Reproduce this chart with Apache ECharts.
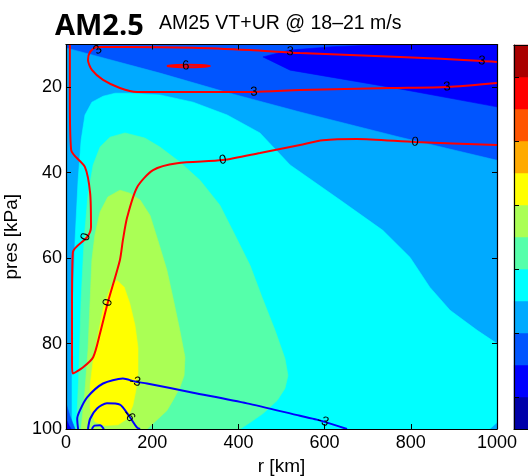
<!DOCTYPE html>
<html>
<head>
<meta charset="utf-8">
<script src="https://cdn.jsdelivr.net/npm/echarts@6/dist/echarts.min.js"></script>
<style>
  html, body { margin: 0; padding: 0; background: #fff; }
  #chart { width: 528px; height: 476px; }
</style>
</head>
<body>
<div id="chart"></div>
<script>
// jet(12) colour map, bottom to top of the colour bar
const jet12 = ['#0000aa', '#0000ff', '#0055ff', '#00aaff', '#00ffff', '#55ffaa',
               '#aaff55', '#ffff00', '#ffaa00', '#ff5500', '#ff0000', '#aa0000'];
// VT band edges [m/s]
const vtLevels = [-12, -9, -6, -3, 0, 3, 6, 9, 12, 15, 18, 21, 24];
const cbarTicks = [-9, -3, 3, 9, 15, 21];
const pTicks = [20, 40, 60, 80, 100];

// Filled VT regions, outlines as [r km, p kPa]; each is the area at or above its level
const vtWhole = [[0, 10], [1000, 10], [1000, 100], [0, 100]];
const vtUpperMin = [[457, 12.9], [520, 11.3], [620, 10.5], [745, 10], [1000, 10], [1000, 24.6],
                    [775, 20.4], [520, 16.0]];
const vtM3 = [[0, 10.8], [218, 16.7], [380, 21.4], [543, 25.8], [775, 31.7], [1000, 37.1],
              [1000, 100], [0, 100]];
const vt0 = [[14, 100], [14, 86.3], [16, 69.9], [21, 55.8], [28, 41.8], [35, 32.4], [44, 26.5],
             [60, 23.5], [86, 22.1], [114, 21.4], [148, 21.4], [218, 21.8], [295, 23.5],
             [374, 26.5], [450, 30.7], [520, 38.2], [636, 46.4], [735, 53.5], [798, 59.8],
             [844, 66.8], [891, 72.2], [954, 76.9], [1000, 80.0], [1000, 98.5], [983, 100]];
const vt3 = [[23, 100], [26, 95.7], [30, 86.3], [35, 69.9], [42, 55.8], [51, 45.3], [63, 38.2],
             [79, 34.0], [102, 31.7], [137, 30.7], [183, 31.9], [218, 34.0], [264, 37.5],
             [311, 41.8], [357, 47.6], [392, 54.6], [427, 61.7], [455, 69.2], [485, 76.9],
             [508, 83.5], [515, 87.5], [508, 90.5], [490, 93.3], [457, 96.4], [427, 98.5],
             [404, 100]];
const vt6 = [[35, 100], [37, 98.0], [44, 91.0], [51, 81.6], [56, 69.9], [60, 60.5], [67, 54.6],
             [79, 49.2], [97, 45.7], [125, 44.1], [148, 44.8], [172, 46.4], [195, 50.0],
             [213, 55.8], [234, 62.8], [248, 69.2], [264, 76.9], [276, 83.2], [274, 87.5],
             [264, 90.3], [248, 93.3], [234, 95.7], [202, 98.7], [188, 100]];
const vt9 = [[118, 65.2], [135, 66.8], [148, 70.6], [160, 75.7], [167, 80.9], [167, 87.0],
             [162, 91.0], [155, 94.5], [142, 97.6], [121, 99.0], [90, 99.2], [67, 98.3],
             [56, 95.2], [56, 89.8], [63, 84.0], [74, 78.1], [88, 71.1], [104, 66.8]];
const vtCornerM6 = [[0, 94.0], [9, 96.9], [21, 100], [0, 100]];
const vtCornerM9 = [[0, 97.6], [7, 99.2], [12, 100], [0, 100]];

const vtBands = [
  { level: -6, outline: vtWhole },
  { level: -9, outline: vtUpperMin },
  { level: -3, outline: vtM3 },
  { level: 0, outline: vt0 },
  { level: 3, outline: vt3 },
  { level: 6, outline: vt6 },
  { level: 9, outline: vt9 },
  { level: -6, outline: vtCornerM6 },
  { level: -9, outline: vtCornerM9 }
];

// UR contour lines [r km, p kPa]
const ur6 = [[234, 15.02], [258, 14.8], [283, 14.75], [310, 14.8], [334, 15.02], [310, 15.25],
             [283, 15.3], [258, 15.25], [234, 15.02]];
const ur3 = [[1000, 14.08], [965, 13.85], [775, 12.9], [543, 12.0], [427, 11.3], [295, 10.75],
             [142, 10.56], [72, 10.56], [56, 11.74], [51, 13.6], [60, 15.96], [86, 18.3],
             [125, 20.18], [165, 21.1], [295, 21.1], [436, 21.1], [543, 20.65], [752, 20.18],
             [884, 19.94], [1000, 19.0]];
const ur0 = [[9, 10.1], [9, 23.0], [12, 34.7], [44, 38.7], [56, 44.8], [58, 52.8], [49, 55.1],
             [16, 58.6], [14, 69.9], [14, 84.7], [16, 87.0], [39, 85.6], [63, 83.2], [79, 77.6],
             [97, 70.4], [125, 60.5], [132, 55.8], [142, 50.4], [165, 43.4], [202, 39.4],
             [258, 37.8], [364, 37.06], [450, 35.4], [543, 33.5], [596, 32.4], [675, 32.1],
             [810, 32.84], [1000, 33.5]];
const urM3 = [[28, 100], [26, 97.6], [32, 95.7], [49, 92.6], [86, 89.35], [132, 88.2],
              [160, 88.9], [188, 89.35], [295, 91.5], [420, 94.0], [543, 96.9], [582, 97.8],
              [652, 100]];
const urM6 = [[51, 100], [56, 97.6], [72, 95.2], [95, 94.0], [125, 94.3], [146, 96.9],
              [165, 99.7], [172, 100]];
const urM9 = [[60, 100], [66, 99.2], [79, 99.1], [88, 100]];

const urLines = [
  { level: 6, path: ur6 },
  { level: 3, path: ur3 },
  { level: 0, path: ur0 },
  { level: -3, path: urM3 },
  { level: -6, path: urM6 },
  { level: -9, path: urM9 }
];

// inline contour labels: [level, r km, p kPa]
const urLabels = [[3, 74, 11.3], [3, 520, 11.7], [3, 965, 13.85], [3, 436, 21.1], [3, 884, 19.94],
                  [6, 278, 15.0], [0, 364, 37.06], [0, 810, 32.84], [0, 46, 55.1], [0, 97, 70.4],
                  [-3, 160, 88.9], [-3, 596, 98.2], [-6, 146, 96.9]];

const FONT = '"Liberation Sans", Arial, Helvetica, sans-serif';

function bandColour(level) {
  return jet12[vtLevels.indexOf(level)];
}

function bandItem(params, api) {
  const band = vtBands[params.dataIndex];
  const c = bandColour(band.level);
  return {
    type: 'polygon',
    shape: { points: band.outline.map(pt => api.coord(pt)) },
    style: { fill: c, stroke: c, lineWidth: 0.6 }
  };
}

function labelItem(params, api) {
  const level = api.value(2);
  const at = api.coord([api.value(0), api.value(1)]);
  // orient the label along the nearest segment of its contour
  let best = Infinity, ang = 0;
  urLines.filter(l => l.level === level).forEach(l => {
    const pts = l.path.map(pt => api.coord(pt));
    for (let i = 0; i < pts.length - 1; i++) {
      const mx = (pts[i][0] + pts[i + 1][0]) / 2, my = (pts[i][1] + pts[i + 1][1]) / 2;
      const d = Math.hypot(mx - at[0], my - at[1]);
      if (d < best) {
        best = d;
        ang = Math.atan2(-(pts[i + 1][1] - pts[i][1]), pts[i + 1][0] - pts[i][0]);
      }
    }
  });
  if (ang > Math.PI / 2) ang -= Math.PI;
  if (ang < -Math.PI / 2) ang += Math.PI;
  return {
    type: 'text',
    x: at[0], y: at[1], rotation: ang,
    style: {
      text: String(level), font: '13px ' + FONT, fill: '#000',
      textAlign: 'center', textVerticalAlign: 'middle'
    },
    z2: 10
  };
}

function cbarItem(params, api) {
  const i = params.dataIndex;
  const a = api.coord([0, vtLevels[i + 1]]);
  const b = api.coord([1, vtLevels[i]]);
  return {
    type: 'rect',
    shape: { x: a[0], y: a[1], width: b[0] - a[0], height: b[1] - a[1] },
    style: { fill: jet12[i], stroke: jet12[i], lineWidth: 0.5 }
  };
}

const tickStyle = { inside: true, length: 5, lineStyle: { color: '#000', width: 1 } };
const lineStyle = { show: true, onZero: false, lineStyle: { color: '#000', width: 1.2 } };
const labelStyle = { color: '#000', fontSize: 18, fontFamily: FONT };

const chart = echarts.init(document.getElementById('chart'), null, { renderer: 'canvas' });
chart.setOption({
  animation: false,
  backgroundColor: '#fff',
  title: [
    { text: 'AM2.5', left: 55, top: 12, padding: 0,
      textStyle: { fontFamily: '"Open Sans", sans-serif', fontWeight: 'bold', fontSize: 29,
                   lineHeight: 29, color: '#000' } },
    { text: 'AM25 VT+UR @ 18–21 m/s', left: 159, top: 14, padding: 0,
      textStyle: { fontFamily: FONT, fontWeight: 'normal', fontSize: 19.5, lineHeight: 19.5,
                   color: '#000' } }
  ],
  grid: [
    { left: 66, top: 44.5, width: 431, height: 384.5, containLabel: false,
      outerBoundsMode: 'none' },
    { left: 514, top: 45, width: 30, height: 384, containLabel: false,
      outerBoundsMode: 'none' }
  ],
  xAxis: [
    { gridIndex: 0, type: 'value', min: 0, max: 1000, interval: 200, position: 'bottom',
      name: 'r [km]', nameLocation: 'middle', nameGap: 27,
      nameTextStyle: { color: '#000', fontSize: 19, fontFamily: FONT },
      axisLine: lineStyle, axisTick: tickStyle,
      axisLabel: Object.assign({ margin: 5, formatter: v => String(v) }, labelStyle),
      splitLine: { show: false }, z: 10 },
    { gridIndex: 0, type: 'value', min: 0, max: 1000, interval: 200, position: 'top',
      axisLine: lineStyle, axisTick: tickStyle, axisLabel: { show: false },
      splitLine: { show: false }, z: 10 },
    { gridIndex: 1, type: 'value', min: 0, max: 1, position: 'bottom',
      axisLine: lineStyle, axisTick: { show: false }, axisLabel: { show: false },
      splitLine: { show: false }, z: 10 },
    { gridIndex: 1, type: 'value', min: 0, max: 1, position: 'top',
      axisLine: lineStyle, axisTick: { show: false }, axisLabel: { show: false },
      splitLine: { show: false }, z: 10 }
  ],
  yAxis: [
    { gridIndex: 0, type: 'value', inverse: true, min: 10, max: 100, position: 'left',
      name: 'pres [kPa]', nameLocation: 'middle', nameGap: 40,
      nameTextStyle: { color: '#000', fontSize: 19, fontFamily: FONT },
      axisLine: lineStyle,
      axisTick: Object.assign({ customValues: pTicks }, tickStyle),
      axisLabel: Object.assign({ margin: 4, customValues: pTicks }, labelStyle),
      splitLine: { show: false }, z: 10 },
    { gridIndex: 0, type: 'value', inverse: true, min: 10, max: 100, position: 'right',
      axisLine: lineStyle,
      axisTick: Object.assign({ customValues: pTicks }, tickStyle),
      axisLabel: { show: false }, splitLine: { show: false }, z: 10 },
    { gridIndex: 1, type: 'value', min: -12, max: 24, position: 'right',
      axisLine: lineStyle,
      axisTick: Object.assign({ customValues: cbarTicks }, tickStyle),
      axisLabel: Object.assign({ margin: 4, customValues: cbarTicks }, labelStyle),
      splitLine: { show: false }, z: 10 },
    { gridIndex: 1, type: 'value', min: -12, max: 24, position: 'left',
      axisLine: lineStyle,
      axisTick: Object.assign({ customValues: cbarTicks }, tickStyle),
      axisLabel: { show: false }, splitLine: { show: false }, z: 10 }
  ],
  series: [
    { type: 'custom', name: 'VT', xAxisIndex: 0, yAxisIndex: 0, clip: true,
      renderItem: bandItem, data: vtBands.map(b => b.outline[0]), z: 1, silent: true },
    ...urLines.map(l => ({
      type: 'line', name: 'UR ' + l.level, xAxisIndex: 0, yAxisIndex: 0,
      data: l.path, showSymbol: false, symbol: 'none', clip: true, smooth: 0.25,
      lineStyle: { color: l.level >= 0 ? '#ff0000' : '#0000ff', width: 2 },
      z: 3, silent: true
    })),
    { type: 'custom', name: 'UR labels', xAxisIndex: 0, yAxisIndex: 0, clip: false,
      renderItem: labelItem, data: urLabels.map(l => [l[1], l[2], l[0]]), z: 5, silent: true },
    { type: 'custom', name: 'colour bar', xAxisIndex: 2, yAxisIndex: 2,
      renderItem: cbarItem, data: jet12.map((c, i) => [0.5, vtLevels[i]]), z: 1, silent: true }
  ]
});
</script>
</body>
</html>
